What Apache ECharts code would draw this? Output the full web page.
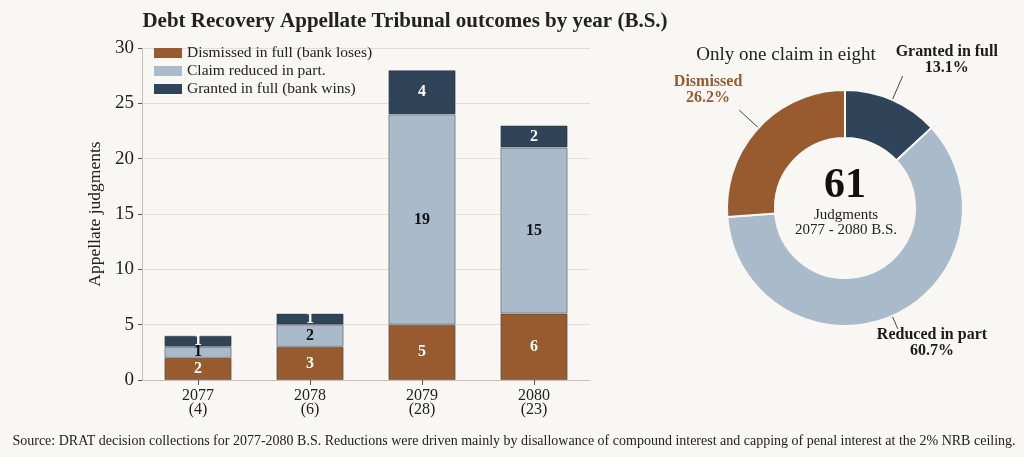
<!DOCTYPE html>
<html>
<head>
<meta charset="utf-8">
<script src="https://cdn.jsdelivr.net/npm/echarts@6/dist/echarts.min.js"></script>
<style>
  html, body { margin: 0; padding: 0; background: #f9f7f3; }
  #chart { width: 1024px; height: 457px; }
</style>
</head>
<body>
<div id="chart"></div>
<script>
var years = ['2077', '2078', '2079', '2080'];
var dismissed = [2, 3, 5, 6];
var reduced = [1, 2, 19, 15];
var granted = [1, 1, 4, 2];
var seriesNames = ['Dismissed in full (bank loses)', 'Claim reduced in part.', 'Granted in full (bank wins)'];
var pieNames = ['Granted in full', 'Reduced in part', 'Dismissed'];

var colBrown = '#985a2f';
var colLight = '#a9bbca';
var colDark = '#2f4359';
var serif = 'Liberation Serif';

function sum(a) {
    return a.reduce(function (s, v) { return s + v; }, 0);
}
var totals = years.map(function (y, i) {
    return dismissed[i] + reduced[i] + granted[i];
});
var grandTotal = sum(totals);

// nudge the donut labels so they sit over / under the end of their leader line
var pieLabelShift = [[-12, -16], [-26, 14], [8, -20]];

var myChart = echarts.init(document.getElementById('chart'));

function barSeries(name, data, color, labelColor) {
    return {
        name: name,
        type: 'bar',
        stack: 'total',
        barWidth: '60%',
        data: data,
        itemStyle: { color: color, borderColor: 'rgba(50,50,50,0.45)', borderWidth: 1 },
        label: {
            show: true,
            position: 'inside',
            color: labelColor,
            fontFamily: serif,
            fontWeight: 'bold',
            fontSize: 16
        }
    };
}

var option = {
    backgroundColor: '#f9f7f3',
    textStyle: { fontFamily: serif },
    title: [{
        text: 'Debt Recovery Appellate Tribunal outcomes by year (B.S.)',
        left: 400,
        top: 6,
        textAlign: 'center',
        textStyle: { fontSize: 21, fontWeight: 'bold', color: '#222', fontFamily: serif }
    }, {
        text: 'Only one claim in eight',
        left: 781,
        top: 41,
        textAlign: 'center',
        textStyle: { fontSize: 19, fontWeight: 'normal', color: '#222', fontFamily: serif }
    }, {
        text: 'Source: DRAT decision collections for 2077-2080 B.S. Reductions were driven mainly by disallowance of compound interest and capping of penal interest at the 2% NRB ceiling.',
        left: 509,
        top: 429,
        textAlign: 'center',
        textStyle: { fontSize: 14, fontWeight: 'normal', color: '#222', fontFamily: serif }
    }],
    legend: {
        orient: 'vertical',
        left: 149,
        top: 40,
        icon: 'rect',
        itemWidth: 28,
        itemHeight: 10,
        itemGap: 2,
        data: seriesNames,
        itemStyle: { borderWidth: 0 },
        textStyle: { fontSize: 15.5, color: '#222', fontFamily: serif }
    },
    grid: { left: 142, right: 434, top: 48, bottom: 77 },
    xAxis: {
        type: 'category',
        data: years,
        axisLine: { lineStyle: { color: '#c9c1b5' } },
        axisTick: { show: true, alignWithLabel: true, length: 5, lineStyle: { color: '#555' } },
        axisLabel: {
            color: '#222',
            fontSize: 16,
            lineHeight: 14,
            margin: 9,
            fontFamily: serif,
            formatter: function (v, i) {
                return v + '\n(' + totals[i] + ')';
            }
        }
    },
    yAxis: {
        type: 'value',
        min: 0,
        max: 30,
        interval: 5,
        name: 'Appellate judgments',
        nameLocation: 'middle',
        nameGap: 38,
        nameTextStyle: { fontSize: 17.5, color: '#222', fontFamily: serif },
        axisLine: { show: true, lineStyle: { color: '#c9c1b5' } },
        axisTick: { show: true, length: 4, lineStyle: { color: '#555' } },
        axisLabel: { color: '#222', fontSize: 19, fontFamily: serif, margin: 8 },
        splitLine: { lineStyle: { color: '#e4ddd2' } }
    },
    series: [
        barSeries(seriesNames[0], dismissed, colBrown, '#fff'),
        barSeries(seriesNames[1], reduced, colLight, '#111'),
        barSeries(seriesNames[2], granted, colDark, '#fff'),
        {
            type: 'pie',
            center: [845, 208],
            radius: [70, 118],
            startAngle: 90,
            clockwise: true,
            silent: true,
            itemStyle: { borderColor: '#f9f7f3', borderWidth: 2 },
            label: {
                show: true,
                position: 'outside',
                overflow: 'none',
                formatter: function (p) {
                    return '{n|' + p.name + '}\n{n|' + p.percent.toFixed(1) + '%}';
                },
                rich: {
                    n: { fontSize: 16, fontWeight: 'bold', fontFamily: serif, align: 'center', lineHeight: 16 }
                }
            },
            labelLine: {
                show: true,
                length: 26,
                length2: 0,
                lineStyle: { color: '#444', width: 1 }
            },
            labelLayout: function (params) {
                var s = pieLabelShift[params.dataIndex] || [0, 0];
                return { dx: s[0], dy: s[1] };
            },
            data: [
                { name: pieNames[0], value: sum(granted), itemStyle: { color: colDark }, label: { color: '#1b1b1b' } },
                { name: pieNames[1], value: sum(reduced), itemStyle: { color: colLight }, label: { color: '#1b1b1b' }, labelLine: { length: 14 } },
                { name: pieNames[2], value: sum(dismissed), itemStyle: { color: colBrown }, label: { color: colBrown } }
            ]
        }
    ],
    graphic: [{
        type: 'text',
        left: 845 - 21,
        top: 165,
        style: { text: String(grandTotal), fontSize: 42, fontWeight: 'bold', fontFamily: serif, fill: '#111', textAlign: 'center' }
    }, {
        type: 'text',
        left: 795,
        top: 208,
        style: { text: 'Judgments\n2077 - 2080 B.S.', fontSize: 15, lineHeight: 15, fontFamily: serif, fill: '#222', textAlign: 'center' }
    }]
};

myChart.setOption(option);
</script>
</body>
</html>
